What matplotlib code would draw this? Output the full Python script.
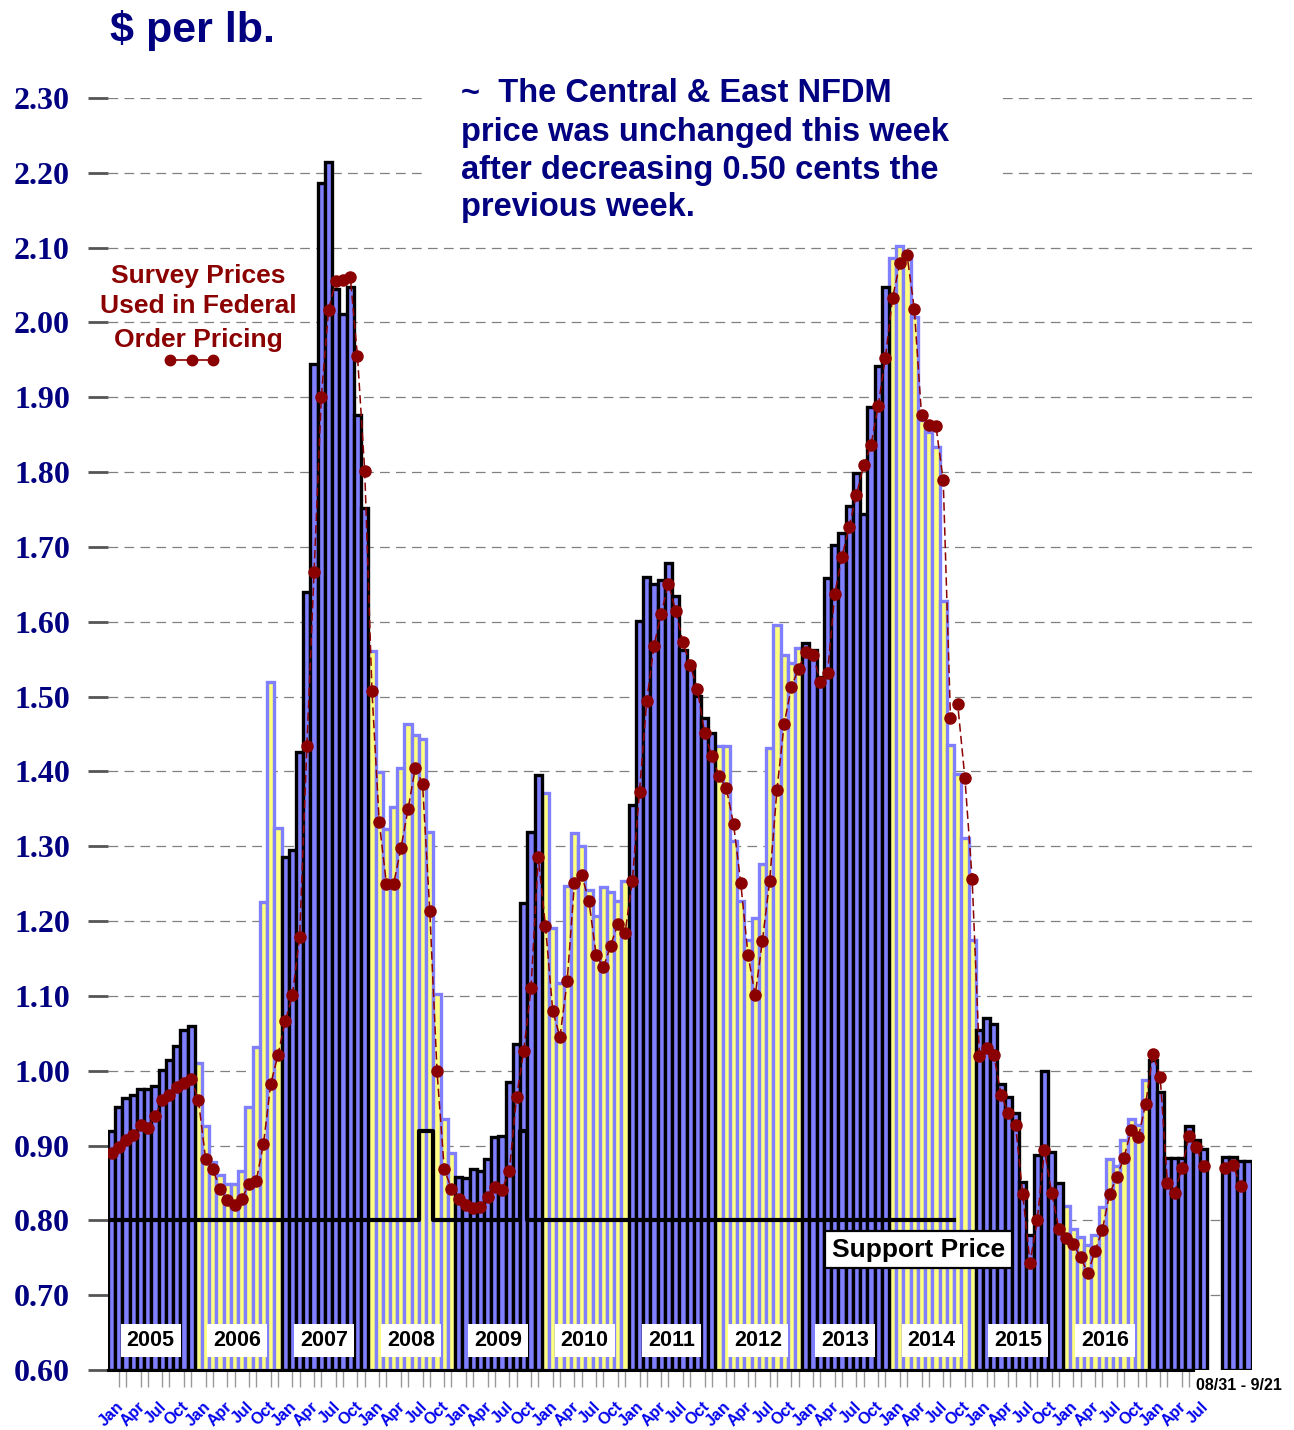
import numpy as np
import matplotlib.pyplot as plt
from matplotlib.patches import Rectangle
from matplotlib.transforms import ScaledTranslation

plt.rcParams['font.family'] = ['Liberation Sans', 'DejaVu Sans']
plt.rcParams['lines.scale_dashes'] = False

# Central & East NFDM monthly average ($/lb), Jan 2005 - Aug 2017
nfdm_2005 = [0.920, 0.952, 0.963, 0.967, 0.975, 0.975, 0.980, 1.001, 1.014, 1.033, 1.054, 1.060]
nfdm_2006 = [1.010, 0.926, 0.878, 0.860, 0.849, 0.849, 0.866, 0.951, 1.032, 1.225, 1.520, 1.325]
nfdm_2007 = [1.285, 1.295, 1.426, 1.640, 1.945, 2.187, 2.215, 2.045, 2.011, 2.047, 1.877, 1.752]
nfdm_2008 = [1.561, 1.399, 1.323, 1.352, 1.404, 1.464, 1.449, 1.443, 1.319, 1.102, 0.935, 0.890]
nfdm_2009 = [0.858, 0.856, 0.869, 0.866, 0.882, 0.911, 0.913, 0.985, 1.036, 1.224, 1.319, 1.395]
nfdm_2010 = [1.371, 1.191, 1.117, 1.247, 1.318, 1.300, 1.242, 1.207, 1.245, 1.239, 1.227, 1.254]
nfdm_2011 = [1.355, 1.601, 1.660, 1.650, 1.656, 1.678, 1.634, 1.562, 1.544, 1.501, 1.472, 1.452]
nfdm_2012 = [1.434, 1.434, 1.307, 1.227, 1.175, 1.204, 1.276, 1.431, 1.596, 1.555, 1.545, 1.565]
nfdm_2013 = [1.572, 1.562, 1.526, 1.659, 1.703, 1.719, 1.755, 1.799, 1.744, 1.887, 1.942, 2.047]
nfdm_2014 = [2.086, 2.102, 2.088, 2.007, 1.870, 1.853, 1.833, 1.628, 1.435, 1.397, 1.311, 1.175]
nfdm_2015 = [1.055, 1.070, 1.063, 0.982, 0.965, 0.944, 0.851, 0.780, 0.887, 1.000, 0.892, 0.850]
nfdm_2016 = [0.819, 0.788, 0.778, 0.767, 0.781, 0.818, 0.882, 0.873, 0.908, 0.936, 0.927, 0.988]
nfdm_2017 = [1.014, 0.972, 0.884, 0.884, 0.884, 0.926, 0.907, 0.895]

# Survey prices used in Federal Order pricing
survey_2005 = [0.890, 0.898, 0.907, 0.914, 0.927, 0.924, 0.939, 0.961, 0.968, 0.978, 0.983, 0.989]
survey_2006 = [0.961, 0.882, 0.868, 0.842, 0.827, 0.821, 0.829, 0.848, 0.853, 0.902, 0.982, 1.021]
survey_2007 = [1.066, 1.101, 1.179, 1.434, 1.667, 1.901, 2.017, 2.055, 2.057, 2.061, 1.955, 1.802]
survey_2008 = [1.508, 1.333, 1.250, 1.250, 1.297, 1.350, 1.405, 1.383, 1.213, 0.999, 0.868, 0.842]
survey_2009 = [0.829, 0.821, 0.816, 0.818, 0.831, 0.845, 0.841, 0.866, 0.965, 1.027, 1.111, 1.285]
survey_2010 = [1.193, 1.080, 1.045, 1.120, 1.251, 1.262, 1.227, 1.155, 1.138, 1.167, 1.196, 1.184]
survey_2011 = [1.253, 1.373, 1.494, 1.568, 1.611, 1.651, 1.615, 1.573, 1.542, 1.510, 1.452, 1.420]
survey_2012 = [1.394, 1.378, 1.330, 1.251, 1.155, 1.101, 1.174, 1.254, 1.375, 1.463, 1.513, 1.537]
survey_2013 = [1.560, 1.556, 1.520, 1.531, 1.637, 1.687, 1.727, 1.770, 1.809, 1.836, 1.888, 1.953]
survey_2014 = [2.033, 2.079, 2.090, 2.018, 1.876, 1.863, 1.861, 1.789, 1.472, 1.490, 1.391, 1.256]
survey_2015 = [1.020, 1.031, 1.021, 0.968, 0.944, 0.927, 0.835, 0.743, 0.800, 0.894, 0.837, 0.788]
survey_2016 = [0.777, 0.768, 0.751, 0.729, 0.759, 0.787, 0.835, 0.858, 0.884, 0.921, 0.912, 0.956]
survey_2017 = [1.022, 0.992, 0.850, 0.837, 0.870, 0.913, 0.898, 0.873]

# weekly prices 08/31 - 9/21
weekly = [0.885, 0.885, 0.879, 0.879]
weekly_survey = [0.870, 0.874, 0.846]

# support price, Jan 2005 - Sep 2014
support = np.full(117, 0.80)
support[[43, 44, 57]] = 0.92

year_labels = ['2005', '2006', '2007', '2008', '2009', '2010',
               '2011', '2012', '2013', '2014', '2015', '2016']
quarter_names = ['Jan', 'Apr', 'Jul', 'Oct']

monthly = np.array(nfdm_2005 + nfdm_2006 + nfdm_2007 + nfdm_2008 + nfdm_2009 + nfdm_2010 +
                   nfdm_2011 + nfdm_2012 + nfdm_2013 + nfdm_2014 + nfdm_2015 + nfdm_2016 + nfdm_2017)
survey = np.array(survey_2005 + survey_2006 + survey_2007 + survey_2008 + survey_2009 + survey_2010 +
                  survey_2011 + survey_2012 + survey_2013 + survey_2014 + survey_2015 + survey_2016 +
                  survey_2017)

navy = '#000080'
red = '#8b0000'
blue = '#8080ff'
yellow = '#ffff80'
base = 0.60

fig = plt.figure(figsize=(12.94, 14.30), dpi=100)
ax = fig.add_axes([108 / 1294, 1 - 1370 / 1430, 1144 / 1294, 1272 / 1430])
ax.set_xlim(0, 158.2)
ax.set_ylim(0.60, 2.30)

# bars: even years yellow, odd years blue
x = np.arange(len(monthly))
dark = (x // 12) % 2 == 0
ax.bar(x[~dark], monthly[~dark] - base, bottom=base, width=1, align='edge',
       color=yellow, edgecolor=blue, linewidth=2.4, zorder=2)
ax.bar(x[dark], monthly[dark] - base, bottom=base, width=1, align='edge',
       color=blue, edgecolor='black', linewidth=2.4, zorder=3)

wx = 154 + np.arange(len(weekly)) * 1.05
ax.bar(wx, np.array(weekly) - base, bottom=base, width=1.05, align='edge',
       color=blue, edgecolor='black', linewidth=2.4, zorder=3)

# support price
sx = np.arange(len(support) + 1)
ax.step(sx, np.append(support, support[-1]), where='post', color='black',
        linewidth=3, zorder=4)

# survey prices
ax.plot(x + 0.5, survey, color=red, linewidth=1.1, linestyle=(0, (6, 3)),
        marker='o', markersize=8, zorder=6)
ax.plot(wx[:3] + 0.525, weekly_survey, color=red, linewidth=1.1, linestyle=(0, (6, 3)),
        marker='o', markersize=8, zorder=6)

# axes styling
for s in ['top', 'right', 'left']:
    ax.spines[s].set_visible(False)
ax.spines['bottom'].set_bounds(0, 150)
ax.spines['bottom'].set_linewidth(2.2)
ax.spines['bottom'].set_zorder(7)

yt = np.round(np.arange(0.60, 2.301, 0.10), 2)
ax.set_yticks(yt, labels=['%.2f' % v for v in yt])
ax.tick_params(axis='y', length=14.4, width=2, color='#555555', pad=13,
               labelsize=23, labelcolor=navy)
for lab in ax.get_yticklabels():
    lab.set_fontfamily('Liberation Serif')
    lab.set_fontweight('bold')
ax.yaxis.grid(True, color='#808080', linewidth=0.9, linestyle=(0, (7, 4.5)))
ax.set_axisbelow(True)
ax.get_ygridlines()[0].set_visible(False)

month_pos = np.arange(0, 151, 3)
month_labels = [quarter_names[(i % 12) // 3] for i in month_pos]
ax.set_xticks(month_pos + 0.5, labels=month_labels)
ax.set_xticks(np.arange(150) + 0.5, minor=True)
ax.tick_params(axis='x', which='major', length=0, pad=21, labelsize=11.5, labelcolor='#0000ee')
ax.tick_params(axis='x', which='minor', length=12, width=1, color='#999999')
offset = ScaledTranslation(4 / 100, 0, fig.dpi_scale_trans)
for lab in ax.get_xticklabels():
    lab.set_rotation(45)
    lab.set_ha('right')
    lab.set_va('top')
    lab.set_rotation_mode('anchor')
    lab.set_fontweight('bold')
    lab.set_transform(lab.get_transform() + offset)

# year labels
for i, yl in enumerate(year_labels):
    ax.text(12 * i + 5.9, 0.640, yl, ha='center', va='center', fontsize=15.5,
            fontweight='bold', color='black', zorder=8,
            bbox=dict(boxstyle='square,pad=0.28', facecolor='white', edgecolor='none'))

ax.text(112.1, 0.761, 'Support Price', ha='center', va='center', fontsize=19,
        fontweight='bold', color='black', zorder=8,
        bbox=dict(boxstyle='square,pad=0.25', facecolor='white', edgecolor='black', linewidth=1.6))

# text outside the plot
fig.text(110 / 1294, 1 - 42 / 1430, '$ per lb.', fontsize=31, fontweight='bold',
         color=navy, ha='left', va='baseline')

fig.add_artist(Rectangle((423 / 1294, 1 - 232 / 1430), 577 / 1294, 175 / 1430,
                         transform=fig.transFigure, facecolor='white', edgecolor='none'))
note = ['~  The Central & East NFDM',
        'price was unchanged this week',
        'after decreasing 0.50 cents the',
        'previous week.']
for line, yb in zip(note, [102, 141, 179, 216]):
    fig.text(461 / 1294, 1 - yb / 1430, line, fontsize=23.5, fontweight='bold',
             color=navy, ha='left', va='baseline')

survey_txt = ['Survey Prices', 'Used in Federal', 'Order Pricing']
for line, yb in zip(survey_txt, [283, 313, 347]):
    fig.text(198 / 1294, 1 - yb / 1430, line, fontsize=19, fontweight='bold',
             color=red, ha='center', va='baseline')
ax.plot(np.array([170, 192, 213]) / 1294, np.full(3, 1 - 360 / 1430), color=red,
        linewidth=1.2, marker='o', markersize=7.5, transform=fig.transFigure, clip_on=False)

fig.text(1196 / 1294, 1 - 1386 / 1430, '08/31 - 9/21', fontsize=11.5, fontweight='bold',
         color='black', ha='left', va='center')

fig.savefig('out.png', dpi=100)
